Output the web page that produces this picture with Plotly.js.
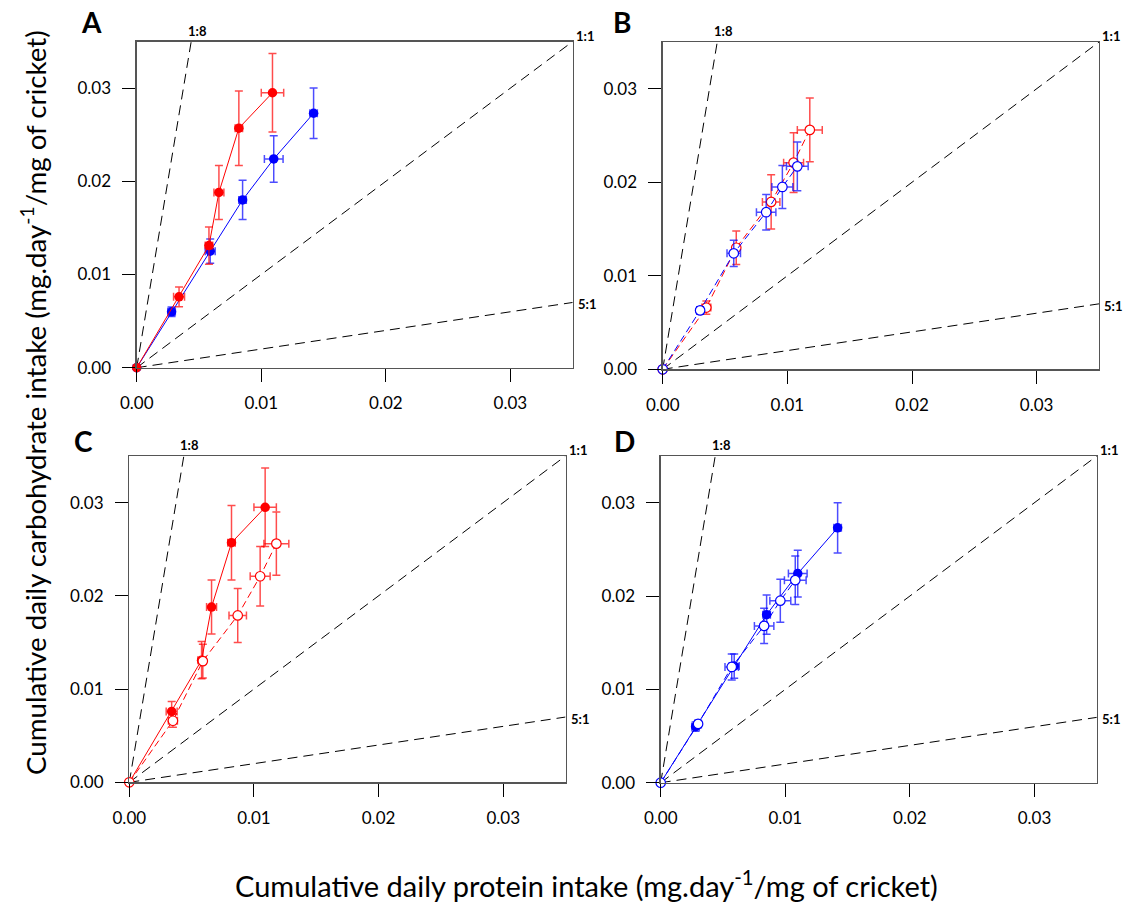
<!DOCTYPE html>
<html>
<head>
<meta charset="utf-8">
<script src="https://cdn.plot.ly/plotly-3.0.1.min.js"></script>
<style>html,body{margin:0;padding:0;background:#fff}#chart{width:1124px;height:904px}</style>
</head>
<body>
<div id="chart"></div>
<script>
// ---- data ----
const redFilledX    = [0, 0.0034, 0.0058, 0.0066, 0.0082, 0.0109];
const redFilledY    = [0, 0.0076, 0.0131, 0.0188, 0.0257, 0.0295];
const redFilledXErr = [0, 0.00044, 0.0003, 0.0004, 0.0003, 0.0009];
const redFilledYErr = [0, 0.00107, 0.0020, 0.0029, 0.0040, 0.0042];

const blueFilledX    = [0, 0.0028, 0.0059, 0.0085, 0.0110, 0.0142];
const blueFilledY    = [0, 0.0060, 0.0125, 0.0180, 0.0224, 0.0273];
const blueFilledXErr = [0, 0.0003, 0.0004, 0.0003, 0.00075, 0.0003];
const blueFilledYErr = [0, 0.0005, 0.0013, 0.0021, 0.0025, 0.0027];

const redOpenX    = [0, 0.0035, 0.0059, 0.0087, 0.0105, 0.0118];
const redOpenY    = [0, 0.0066, 0.0130, 0.0179, 0.0221, 0.0256];
const redOpenXErr = [0, 0.00036, 0.0002, 0.0007, 0.0008, 0.0010];
const redOpenYErr = [0, 0.0007, 0.0018, 0.0029, 0.0032, 0.0034];

const blueOpenX    = [0, 0.0030, 0.0057, 0.0083, 0.0096, 0.0108];
const blueOpenY    = [0, 0.0063, 0.0124, 0.0168, 0.0195, 0.0217];
const blueOpenXErr = [0, 0.00025, 0.00054, 0.00078, 0.00084, 0.00087];
const blueOpenYErr = [0, 0.0004, 0.0014, 0.0019, 0.0023, 0.0026];

const ratioLabels = ['1:8', '1:1', '5:1'];
const ratioSlopes = [8, 1, 0.2];   // carbohydrate : protein slope
const tickVals = [0, 0.01, 0.02, 0.03];
const tickText = ['0.00', '0.01', '0.02', '0.03'];
const panelLetters = ['A', 'B', 'C', 'D'];
const axisMax = 0.035;

const xTitle = 'Cumulative daily protein intake (mg.day<sup>-1</sup>/mg of cricket)';
const yTitle = 'Cumulative daily carbohydrate intake (mg.day<sup>-1</sup>/mg of cricket)';

// ---- layout helpers ----
const W = 1124, H = 904;
const FONT = 'Lato, "Open Sans", sans-serif';
// panel boxes in pixels: [left, right, top, bottom]
const boxes = [
  [136.7, 572.7, 41.5, 367.7],
  [662.7, 1099.0, 42.0, 369.3],
  [129.3, 565.5, 456.0, 782.3],
  [660.7, 1096.8, 456.0, 782.7]
];

const RED = '#ff0000', BLUE = '#0000ff';
const RED_ERR = 'rgba(255,0,0,0.7)', BLUE_ERR = 'rgba(0,0,255,0.7)';

function series(x, y, xe, ye, color, errColor, filled, axIdx) {
  const sfx = axIdx === 1 ? '' : String(axIdx);
  return {
    type: 'scatter', mode: 'lines+markers',
    x: x, y: y, xaxis: 'x' + sfx, yaxis: 'y' + sfx,
    cliponaxis: false,
    line: {color: color, width: 1, dash: filled ? 'solid' : '7px,4px'},
    marker: {
      size: 9.5, symbol: 'circle',
      color: filled ? color : '#ffffff',
      line: {color: color, width: filled ? 0 : 1.2}
    },
    error_x: {type: 'data', array: xe, visible: true, color: errColor, thickness: 1.5, width: 4},
    error_y: {type: 'data', array: ye, visible: true, color: errColor, thickness: 1.5, width: 4},
    hoverinfo: 'x+y'
  };
}

function ratioLines(axIdx) {
  const sfx = axIdx === 1 ? '' : String(axIdx);
  return ratioSlopes.map((s, i) => {
    const xEnd = Math.min(axisMax, axisMax / s);
    return {
      type: 'scatter', mode: 'lines',
      x: [0, xEnd], y: [0, xEnd * s],
      xaxis: 'x' + sfx, yaxis: 'y' + sfx,
      line: {color: '#000', width: 1, dash: '10px,6px'},
      hoverinfo: 'skip', name: ratioLabels[i]
    };
  });
}

const data = [];
// Panel A: filled blue & red
data.push(...ratioLines(1));
data.push(series(blueFilledX, blueFilledY, blueFilledXErr, blueFilledYErr, BLUE, BLUE_ERR, true, 1));
data.push(series(redFilledX, redFilledY, redFilledXErr, redFilledYErr, RED, RED_ERR, true, 1));
// Panel B: open red & blue
data.push(...ratioLines(2));
data.push(series(redOpenX, redOpenY, redOpenXErr, redOpenYErr, RED, RED_ERR, false, 2));
data.push(series(blueOpenX, blueOpenY, blueOpenXErr, blueOpenYErr, BLUE, BLUE_ERR, false, 2));
// Panel C: red filled & open
data.push(...ratioLines(3));
data.push(series(redFilledX, redFilledY, redFilledXErr, redFilledYErr, RED, RED_ERR, true, 3));
data.push(series(redOpenX, redOpenY, redOpenXErr, redOpenYErr, RED, RED_ERR, false, 3));
// Panel D: blue filled & open
data.push(...ratioLines(4));
data.push(series(blueFilledX, blueFilledY, blueFilledXErr, blueFilledYErr, BLUE, BLUE_ERR, true, 4));
data.push(series(blueOpenX, blueOpenY, blueOpenXErr, blueOpenYErr, BLUE, BLUE_ERR, false, 4));

const layout = {
  width: W, height: H,
  margin: {l: 0, r: 0, t: 0, b: 0},
  paper_bgcolor: '#fff', plot_bgcolor: '#fff',
  showlegend: false,
  font: {family: FONT, color: '#000'},
  annotations: []
};

boxes.forEach((b, i) => {
  const sfx = i === 0 ? '' : String(i + 1);
  const common = {
    range: [0, axisMax], autorange: false,
    showgrid: false, zeroline: false,
    showline: true, mirror: true, linecolor: '#555', linewidth: 1.3,
    ticks: 'outside', ticklen: 13, tickcolor: '#000', tickwidth: 1,
    tickvals: tickVals, ticktext: tickText,
    tickfont: {family: FONT, size: 17, color: '#000'},
    fixedrange: true
  };
  layout['xaxis' + sfx] = Object.assign({}, common, {
    domain: [b[0] / W, b[1] / W],
    anchor: 'y' + sfx, ticklabelstandoff: 7
  });
  layout['yaxis' + sfx] = Object.assign({}, common, {
    domain: [1 - b[3] / H, 1 - b[2] / H],
    anchor: 'x' + sfx, ticklabelstandoff: 8
  });
  const xr = 'x' + sfx, yr = 'y' + sfx;
  // ratio labels
  ratioSlopes.forEach((s, k) => {
    const xEnd = Math.min(axisMax, axisMax / s);
    const yEnd = xEnd * s;
    const atTop = yEnd >= axisMax && xEnd < axisMax;
    const corner = yEnd >= axisMax && xEnd >= axisMax;
    const ann = {
      xref: xr, yref: yr, x: xEnd, y: yEnd, text: '<b>' + ratioLabels[k] + '</b>',
      showarrow: false, font: {family: FONT, size: 13, color: '#000'}
    };
    if (atTop) { ann.xanchor = 'center'; ann.yanchor = 'bottom'; ann.xshift = 6; ann.yshift = 1; }
    else if (corner) { ann.xanchor = 'left'; ann.yanchor = 'bottom'; ann.xshift = 1; ann.yshift = -4; }
    else { ann.xanchor = 'left'; ann.yanchor = 'middle'; ann.xshift = 3; ann.yshift = -2; }
    layout.annotations.push(ann);
  });
});

// panel letters
const letterPos = [[91, 22], [622, 22], [83, 441], [624, 441]];
panelLetters.forEach((L, i) => {
  layout.annotations.push({
    xref: 'paper', yref: 'paper', x: letterPos[i][0] / W, y: 1 - letterPos[i][1] / H,
    xanchor: 'center', yanchor: 'middle', showarrow: false,
    text: '<b>' + L + '</b>', font: {family: FONT, size: 28, color: '#000'}
  });
});

// axis titles
layout.annotations.push({
  xref: 'paper', yref: 'paper', x: 586 / W, y: 1 - 884 / H,
  xanchor: 'center', yanchor: 'middle', showarrow: false,
  text: xTitle, font: {family: FONT, size: 29, color: '#000'}
});
layout.annotations.push({
  xref: 'paper', yref: 'paper', x: 33 / W, y: 1 - 403 / H,
  xanchor: 'center', yanchor: 'middle', showarrow: false, textangle: -90,
  text: yTitle, font: {family: FONT, size: 27.7, color: '#000'}
});

Plotly.newPlot('chart', data, layout, {staticPlot: true, displayModeBar: false});
</script>
</body>
</html>
